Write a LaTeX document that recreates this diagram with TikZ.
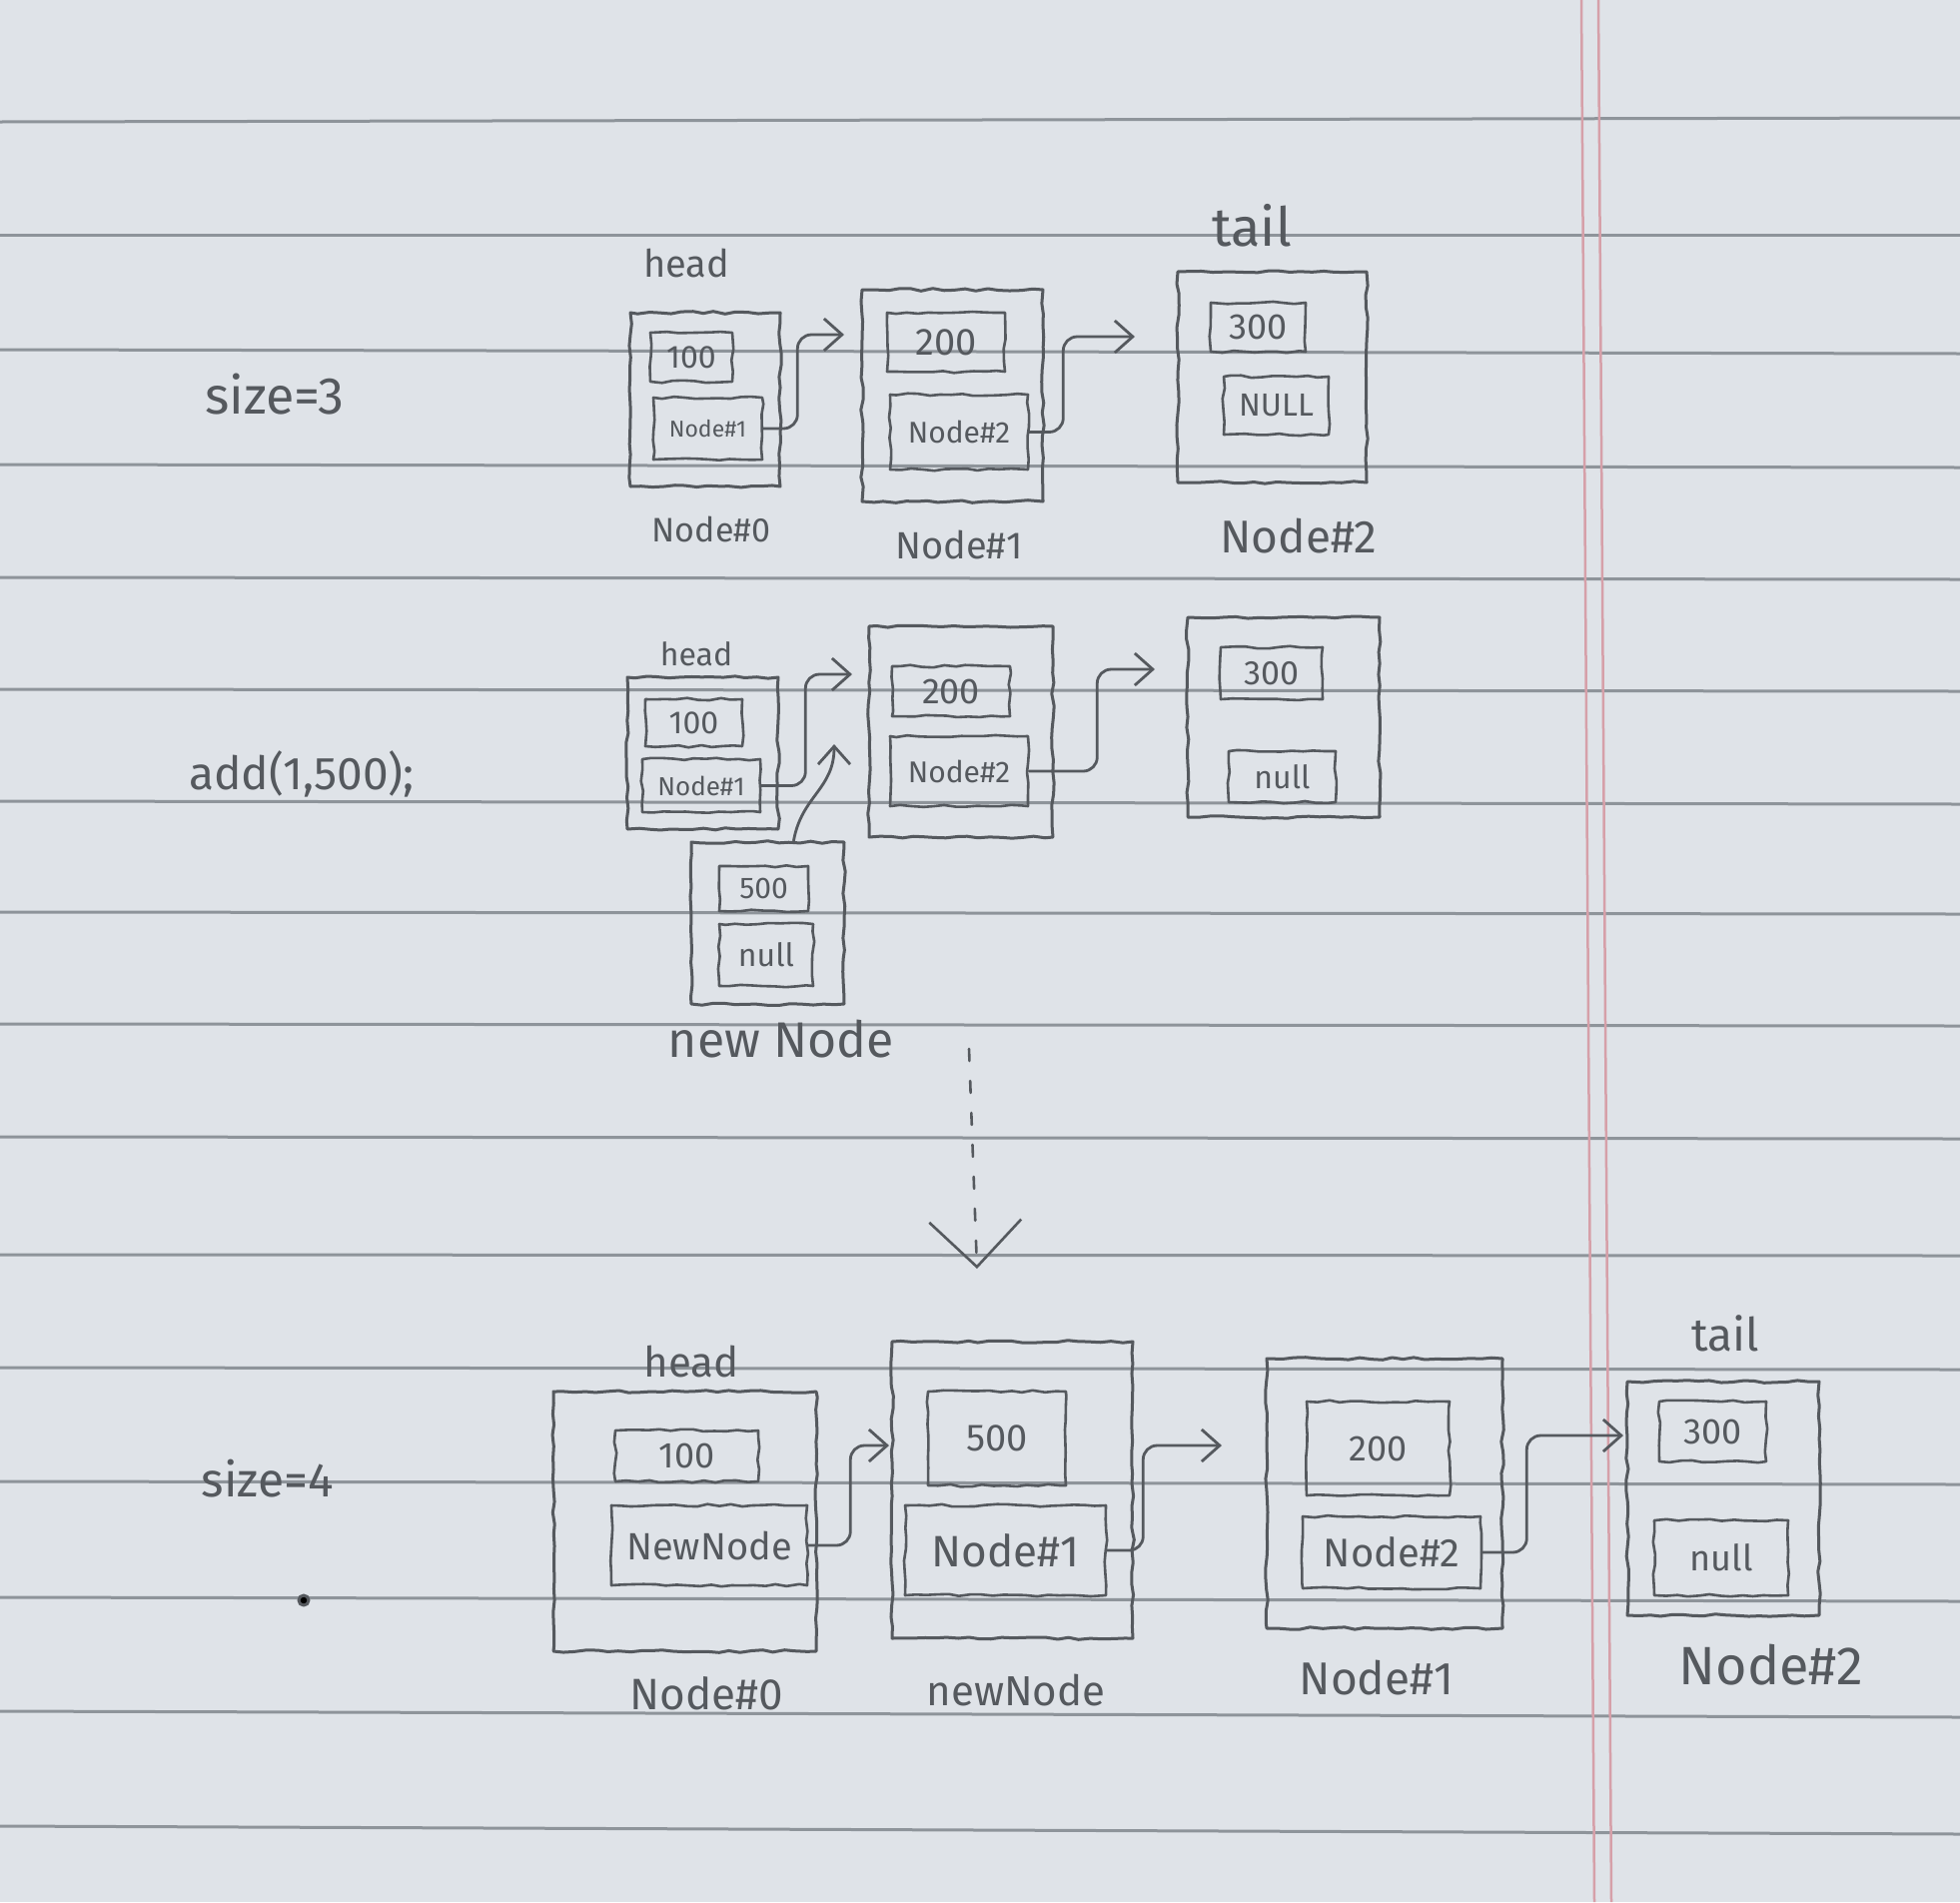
\documentclass[tikz,border=0pt]{standalone}
\usepackage{fontspec}
\setmainfont{Fira Sans}
\usetikzlibrary{arrows.meta,decorations.pathmorphing,calc}
\definecolor{paper}{HTML}{DFE3E8}
\definecolor{rulec}{HTML}{8E949A}
\definecolor{marginc}{HTML}{D6A0A9}
\definecolor{pencil}{HTML}{55595E}
\newcommand\hsz[1]{\fontsize{#1}{#1}\selectfont}
\tikzset{
 pencil/.style={draw=pencil,line width=3pt,line join=round,line cap=round},
 sketchy/.style={decorate,decoration={random steps,segment length=11pt,amplitude=1.3pt}},
 outerbox/.style={pencil,sketchy,rectangle,inner sep=0pt},
 cell/.style={pencil,sketchy,rectangle,inner sep=0pt,text=pencil,line width=2.6pt},
 wh/.style 2 args={minimum width=#1pt,minimum height=#2pt},
 lbl/.style={text=pencil,inner sep=0pt},
 link/.style={draw=pencil,line width=2.8pt,line cap=round,rounded corners=14pt,-{Straight Barb[length=18pt,width=32pt]}},
 ruled/.style={draw=rulec,line width=3pt},
 marginline/.style={draw=marginc,line width=2.5pt},
}
\begin{document}
\begin{tikzpicture}[x=1pt,y=-1pt]
\pgfmathsetseed{7}
\fill[paper] (0,0) rectangle (1962,1904);
\useasboundingbox (0,0) rectangle (1962,1904);
% ruled lines
\foreach \yy/\dd in {122/-4,235/0,350/4,465/3,578/2,690/2,802/3,913/2,1025/2,1138/2,1256/1,1369/2,1483/3,1599/4,1713/6,1828/8}
  \draw[ruled] (0,\yy) -- (1962,\yy+\dd);
% margin lines
\draw[marginline] (1583,0) -- (1596,1904);
\draw[marginline] (1600,0) -- (1613,1904);

% ---------- left labels ----------
\node[lbl,font=\hsz{52}] (size3) at (275,395) {size=3};
\node[lbl,font=\hsz{46}] (addcall) at (302,775) {add(1,500);};
\node[lbl,font=\hsz{48}] (size4) at (268,1480) {size=4};
\fill[pencil] (304,1602) circle (5pt);
\coordinate (dot) at (304,1602);

% ---------- row 1 ----------
\node[outerbox,wh={150}{174}] (a0) at (706,400) {};
\node[cell,wh={82}{49},font=\hsz{32}] (a0v) at (692,357.5) {100};
\node[cell,wh={109}{62},font=\hsz{23}] (a0p) at (708.5,429) {Node\#1};
\node[outerbox,wh={181}{212}] (a1) at (953.5,396) {};
\node[cell,wh={118}{59},font=\hsz{38}] (a1v) at (947,342.5) {200};
\node[cell,wh={138}{75},font=\hsz{30}] (a1p) at (960,432.5) {Node\#2};
\node[outerbox,wh={189}{211}] (a2) at (1273.5,377.5) {};
\node[cell,wh={95}{49},font=\hsz{36}] (a2v) at (1259.5,327.5) {300};
\node[cell,wh={105}{58},font=\hsz{32}] (a2p) at (1277.5,406) {NULL};
\node[lbl,font=\hsz{38}] (ahead) at (687,263) {head};
\node[lbl,font=\hsz{54}] (atail) at (1253,226) {tail};
\node[lbl,font=\hsz{34}] (a0l) at (712,530) {Node\#0};
\node[lbl,font=\hsz{38}] (a1l) at (960,545) {Node\#1};
\node[lbl,font=\hsz{46}] (a2l) at (1300,537) {Node\#2};
\coordinate (at1) at (845,335);
\coordinate (at2) at (1136,337);
\draw[link] (a0p.east) -- ++(34,0) |- (at1);
\draw[link] (a1p.east) -- ++(34,0) |- (at2);

% ---------- row 2 ----------
\node[outerbox,wh={151}{152}] (b0) at (703.5,754) {};
\node[cell,wh={97}{47},font=\hsz{32}] (b0v) at (694.5,723.5) {100};
\node[cell,wh={118}{53},font=\hsz{26}] (b0p) at (702,786.5) {Node\#1};
\node[outerbox,wh={184}{211}] (b1) at (962,732.5) {};
\node[cell,wh={118}{50},font=\hsz{36}] (b1v) at (952,692) {200};
\node[cell,wh={138}{70},font=\hsz{30}] (b1p) at (960,772) {Node\#2};
\node[outerbox,wh={192}{200}] (b2) at (1285,718) {};
\node[cell,wh={102}{52},font=\hsz{34}] (b2v) at (1273,674) {300};
\node[cell,wh={107}{51},font=\hsz{32}] (b2p) at (1283.5,777.5) {null};
\node[outerbox,wh={153}{162}] (bn) at (768.5,924) {};
\node[cell,wh={89}{45},font=\hsz{30}] (bnv) at (764.5,889.5) {500};
\node[cell,wh={94}{62},font=\hsz{32}] (bnp) at (767,956) {null};
\node[lbl,font=\hsz{32}] (bhead) at (697,655) {head};
\node[lbl,font=\hsz{50}] (bnl) at (782,1040) {new Node};
\coordinate (bt1) at (853,675);
\coordinate (bt2) at (1156,670);
\coordinate (bt3) at (835,745);
\draw[link] (b0p.east) -- ++(44,0) |- (bt1);
\draw[link] (b1p.east) -- ++(68,0) |- (bt2);
\draw[link] ($(bn.north)+(26,0)$) .. controls +(8,-45) and +(0,45) .. (bt3);

% ---------- transition arrow ----------
\coordinate (d1) at (970,1050);
\coordinate (d2) at (978,1270);
\draw[pencil,line width=2.6pt,dash pattern=on 12pt off 20pt,-{Straight Barb[length=46pt,width=92pt]}] (d1) -- (d2);

% ---------- row 3 ----------
\node[outerbox,wh={263}{260}] (c0) at (685.5,1523) {};
\node[cell,wh={143}{51},font=\hsz{36}] (c0v) at (687.5,1457.5) {100};
\node[cell,wh={196}{80},font=\hsz{38}] (c0p) at (710,1547) {NewNode};
\node[outerbox,wh={241}{297}] (c1) at (1013.5,1491.5) {};
\node[cell,wh={138}{94},font=\hsz{38}] (c1v) at (998,1440) {500};
\node[cell,wh={201}{90},font=\hsz{44}] (c1p) at (1006.5,1552) {Node\#1};
\node[outerbox,wh={236}{270}] (c2) at (1386,1495) {};
\node[cell,wh={143}{94},font=\hsz{36}] (c2v) at (1379.5,1450) {200};
\node[cell,wh={178}{72},font=\hsz{40}] (c2p) at (1393,1554) {Node\#2};
\node[outerbox,wh={192}{234}] (c3) at (1725,1500) {};
\node[cell,wh={107}{60},font=\hsz{36}] (c3v) at (1714.5,1433) {300};
\node[cell,wh={134}{75},font=\hsz{36}] (c3p) at (1723,1559.5) {null};
\node[lbl,font=\hsz{42}] (chead) at (692,1363) {head};
\node[lbl,font=\hsz{46}] (ctail) at (1727,1335) {tail};
\node[lbl,font=\hsz{44}] (c0l) at (707,1695) {Node\#0};
\node[lbl,font=\hsz{42}] (c1l) at (1017,1692) {newNode};
\node[lbl,font=\hsz{46}] (c2l) at (1378,1680) {Node\#1};
\node[lbl,font=\hsz{54}] (c3l) at (1773,1667) {Node\#2};
\coordinate (ct1) at (890,1447);
\coordinate (ct2) at (1223,1447);
\coordinate (ct3) at (1625,1437);
\draw[link] (c0p.east) -- ++(42,0) |- (ct1);
\draw[link] (c1p.east) -- ++(36,0) |- (ct2);
\draw[link] (c2p.east) -- ++(45,0) |- (ct3);
\end{tikzpicture}
\end{document}
